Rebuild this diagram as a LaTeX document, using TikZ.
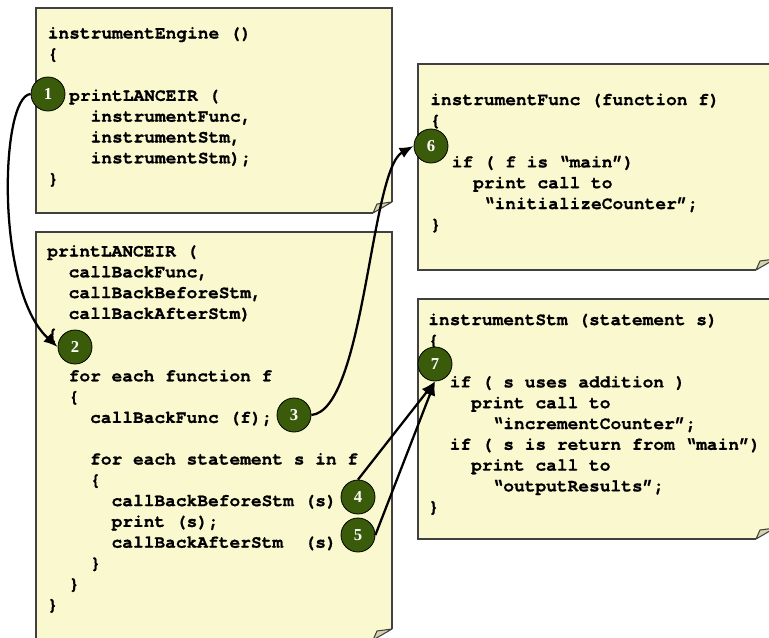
\documentclass[tikz,border=0pt]{standalone}
\usepackage{fontspec}
\setmainfont{Liberation Serif}
\newfontfamily\codefont{TeX Gyre Cursor}[BoldFeatures={FakeBold=0.8}]
\usetikzlibrary{arrows.meta}

\definecolor{notefill}{HTML}{FAF8CF}
\definecolor{noteedge}{HTML}{404040}
\definecolor{foldfill}{HTML}{D6D3AA}
\definecolor{badgefill}{HTML}{3A5C0A}

% indentation by a number of monospaced character cells
\newcommand\tab[1]{\hspace*{#1\fontcharwd\font`\x}}

% sticky note with a curled lower-right corner: #1,#2 = upper-left, #3,#4 = lower-right
\newcommand\stickynote[4]{%
  \fill[notefill] (#1,#2) -- (#3,#2) -- (#3,#4-11) -- (#3-19,#4) -- (#1,#4) -- cycle;
  \draw[noteedge, line width=1.1pt] (#3,#4-11) -- (#3,#2) -- (#1,#2) -- (#1,#4) -- (#3-19,#4);
  \draw[foldtri] (#3,#4-11) -- (#3-19,#4) -- (#3-15,#4-9) -- cycle;
}

\tikzset{
  foldtri/.style={fill=foldfill, draw=noteedge, line width=0.8pt, line join=round},
  code/.style={anchor=base west, inner sep=0pt,
    font=\codefont\bfseries\fontsize{13.4pt}{15.6pt}\selectfont},
  badge/.style={circle, fill=badgefill, draw=black, line width=0.6pt,
    minimum size=25.5pt, inner sep=0pt, text=white,
    font=\bfseries\fontsize{12.5pt}{12.5pt}\selectfont},
  flow/.style={-{Latex[length=10.5pt,width=8.5pt]}, line width=1.7pt, black}
}

\begin{document}
\begin{tikzpicture}[x=0.75pt, y=-0.75pt]
\useasboundingbox (0,0) rectangle (769,637);
\clip (0,0) rectangle (769,637);

% the four notes
\stickynote{36}{8}{392}{213}
\stickynote{36}{232}{392}{640}
\stickynote{418}{64}{775}{270}
\stickynote{418}{299}{775}{539}

% code listings (baseline of the first line at the node position)
\node[code] (engine) at (47.5,38.5) {\begin{tabular}[t]{@{}l@{}}
instrumentEngine ()\\
{\char`\{}\\[15.6pt]
\tab{2}printLANCEIR (\\
\tab{4}instrumentFunc,\\
\tab{4}instrumentStm,\\
\tab{4}instrumentStm);\\
{\char`\}}
\end{tabular}};

\node[code] (walker) at (47,256.5) {\begin{tabular}[t]{@{}l@{}}
printLANCEIR (\\
\tab{2}callBackFunc,\\
\tab{2}callBackBeforeStm,\\
\tab{2}callBackAfterStm)\\
{\char`\{}\\[15.6pt]
\tab{2}for each function f\\
\tab{2}{\char`\{}\\
\tab{4}callBackFunc (f);\\[15.6pt]
\tab{4}for each statement s in f\\
\tab{4}{\char`\{}\\
\tab{6}callBackBeforeStm (s)\\
\tab{6}print (s);\\
\tab{6}callBackAfterStm\tab{2}(s)\\
\tab{4}{\char`\}}\\
\tab{2}{\char`\}}\\
{\char`\}}
\end{tabular}};

\node[code] (func) at (430,105) {\begin{tabular}[t]{@{}l@{}}
instrumentFunc (function f)\\
{\char`\{}\\[15.6pt]
\tab{2}if ( f is “main”)\\
\tab{4}print call to\\
\tab{5}“initializeCounter”;\\
{\char`\}}
\end{tabular}};

\node[code] (stm) at (428,325) {\begin{tabular}[t]{@{}l@{}}
instrumentStm (statement s)\\
{\char`\{}\\[15.6pt]
\tab{2}if ( s uses addition )\\
\tab{4}print call to\\
\tab{6}“incrementCounter”;\\
\tab{2}if ( s is return from “main”)\\
\tab{4}print call to\\
\tab{6}“outputResults”;\\
{\char`\}}
\end{tabular}};

% numbered markers
\node[badge] (c1) at (48,94) {1};
\node[badge] (c2) at (75,347) {2};
\node[badge] (c3) at (294,415) {3};
\node[badge] (c4) at (358,497) {4};
\node[badge] (c5) at (358,535) {5};
\node[badge] (c6) at (431,146) {6};
\node[badge] (c7) at (435,364) {7};

% control flow between the markers
\draw[flow] (c1.west) .. controls (0,96) and (-5,290) .. (c2.west);
\draw[flow] (c3.east) .. controls (365,410) and (370,170) .. (c6.west);
\draw[flow] (c4.north) -- (c7.south);
\draw[flow] (c5.east) -- (c7.south);
\end{tikzpicture}
\end{document}
